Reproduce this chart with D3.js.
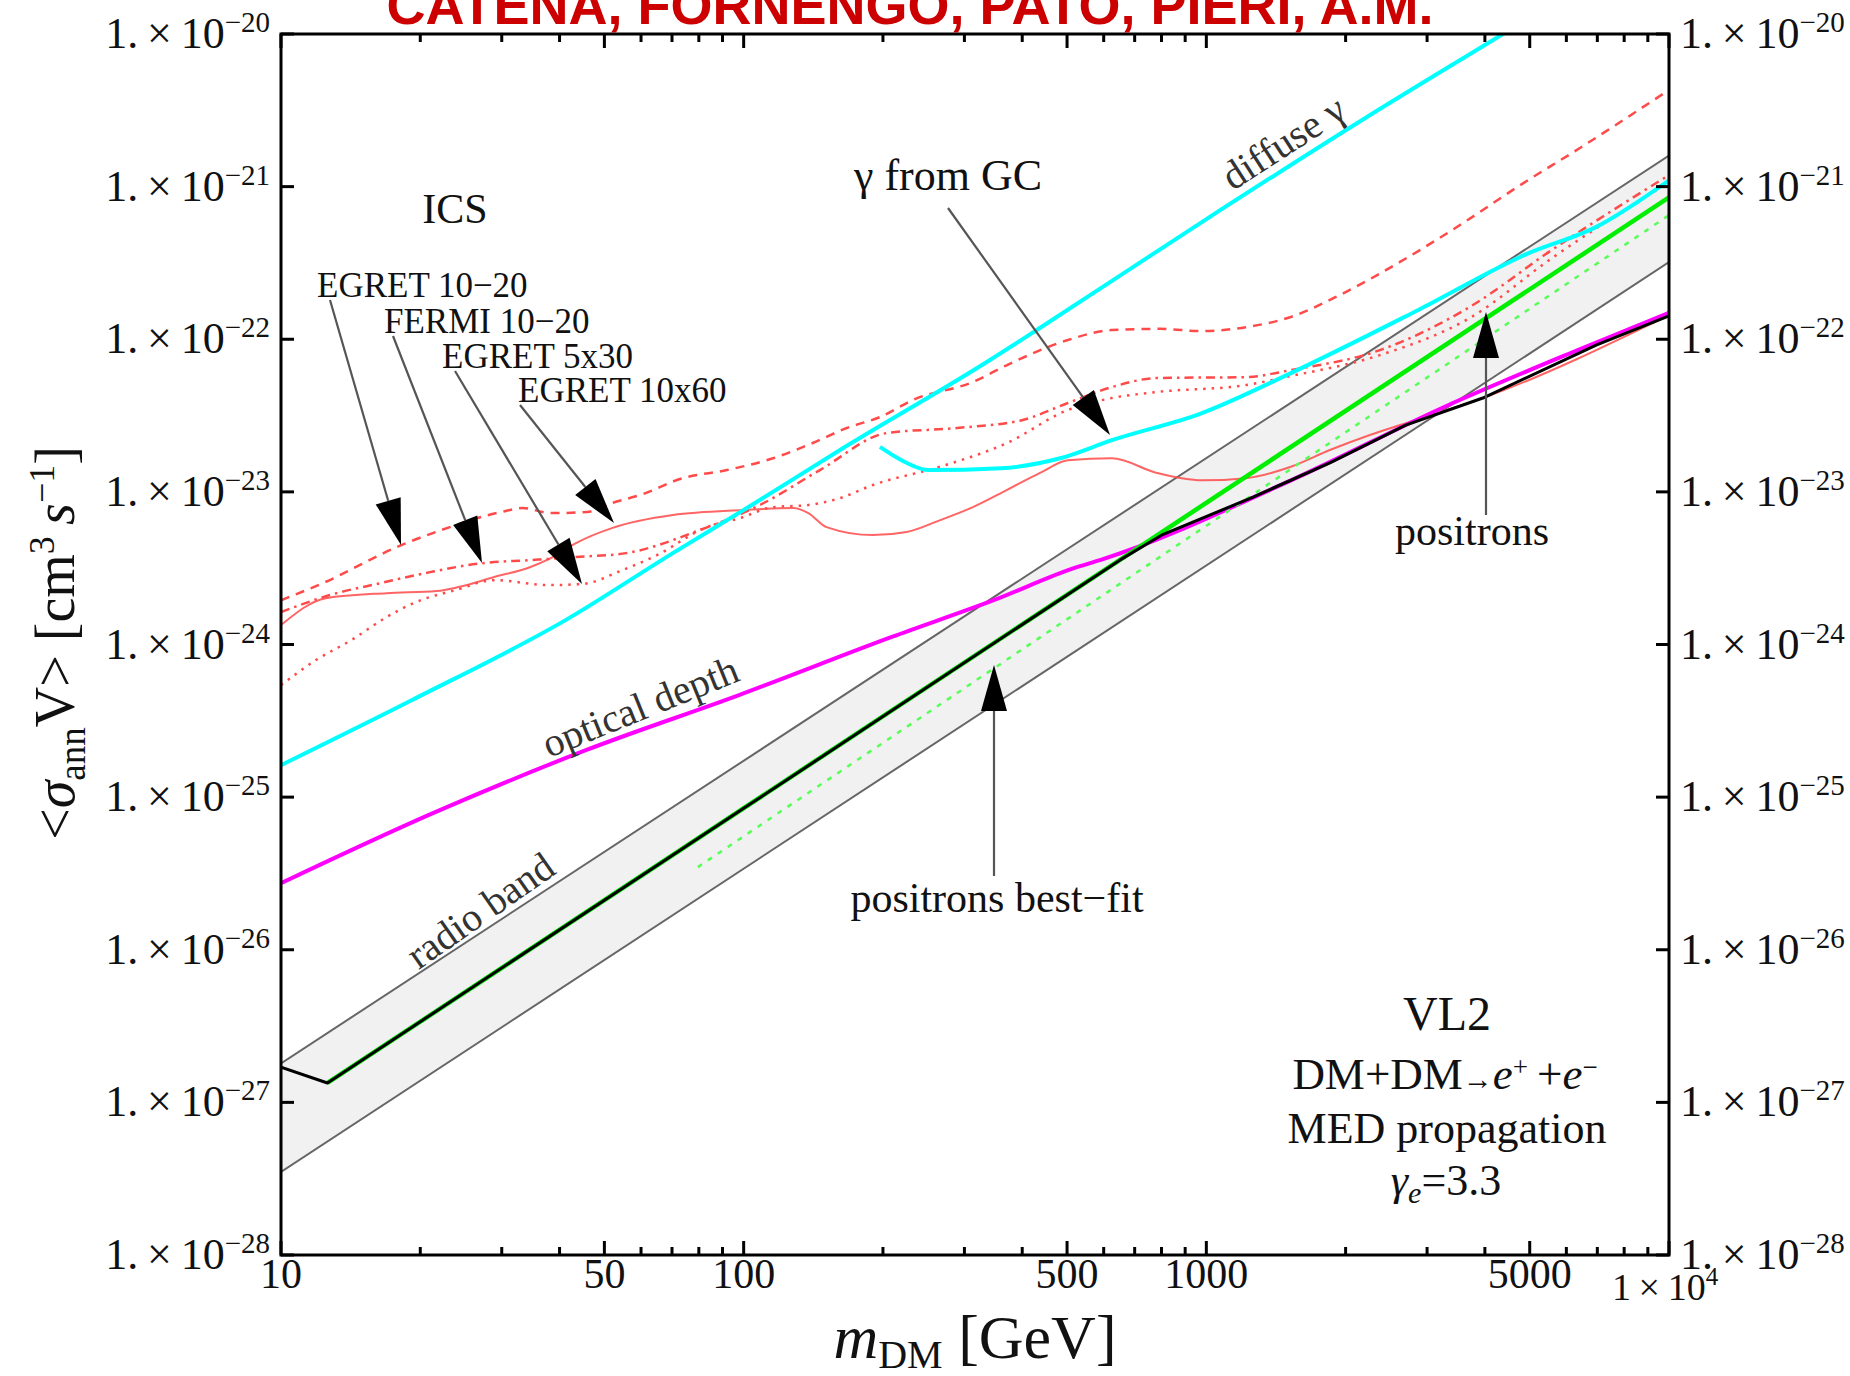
<!DOCTYPE html>
<html><head><meta charset="utf-8">
<script src="https://cdnjs.cloudflare.com/ajax/libs/d3/7.8.5/d3.min.js"></script>
<style>
body{margin:0;background:#fff}
svg{display:block;font-family:"Liberation Serif","Times New Roman",serif}
</style>
</head><body>
<svg id="chart" width="1850" height="1376"></svg>
<script>
// ---------------- DATA (mass in GeV, <sigma v> in cm^3 s^-1) ----------------
const xMajor = [10, 50, 100, 500, 1000, 5000, 10000];
const xMinor = [20,30,40,60,70,80,90,200,300,400,600,700,800,900,2000,3000,4000,6000,7000,8000,9000];
const xTickLabels = ["10","50","100","500","1000","5000"];
const yExponents = [-20,-21,-22,-23,-24,-25,-26,-27,-28];

// radio band edges
const radioUpper = [[10,1.8e-27],[10000,1.6e-21]];
const radioLower = [[10,3.5e-28],[10000,3.2e-22]];

// ICS constraints (red)
const egret1020 = [[10,1.95e-24],[12.3,2.52e-24],[18.2,4.48e-24],[22.2,5.62e-24],[29.9,7.38e-24],[33.3,7.83e-24],
  [38.3,7.26e-24],[45.9,7.38e-24],[51.9,8.45e-24],[59.7,9.53e-24],[73.9,1.23e-23],[92,1.39e-23],[115.7,1.66e-23],
  [141,2.09e-23],[167,2.62e-23],[197,3.09e-23],[232,4.0e-23],[313,5.25e-23],[371,6.78e-23],[502,9.88e-23],
  [625,1.15e-22],[794,1.17e-22],[978,1.13e-22],[1218,1.2e-22],[1523,1.4e-22],[1944,1.95e-22],[2621,3.21e-22],
  [3533,5.6e-22],[4763,1.02e-21],[6418,1.79e-21],[10000,4.3e-21]];
const fermi1020 = [[10,1.63e-24],[12.76,2.11e-24],[16.37,2.52e-24],[21.0,2.98e-24],[27.2,3.41e-24],[34.5,3.57e-24],
  [43.4,3.74e-24],[55.7,3.97e-24],[80.4,5.62e-24],[108.4,8.2e-24],[146.2,1.39e-23],[204,2.43e-23],[289,2.62e-23],
  [401,2.96e-23],[502,3.82e-23],[625,4.86e-23],[782,5.57e-23],[1218,5.65e-23],[1523,6.28e-23],[2372,8.49e-23],
  [3713,1.63e-22],[5583,3.85e-22],[10000,1.19e-21]];
const egret5x30 = [[10,5.42e-25],[11.9,7.91e-25],[14.2,1.07e-24],[16.9,1.51e-24],[19.6,1.90e-24],[23.8,2.27e-24],
  [28.9,2.64e-24],[37.8,2.45e-24],[44.7,2.49e-24],[54.8,3.08e-24],[64.3,3.79e-24],[83.3,5.88e-24],[98.2,6.73e-24],
  [115.7,7.94e-24],[137,8.18e-24],[161.5,9.1e-24],[190.3,1.11e-23],[265.6,1.46e-23],[370.8,2.09e-23],[502,3.44e-23],
  [625,4.12e-23],[782,4.51e-23],[1218,5.01e-23],[1523,5.74e-23],[2372,7.87e-23],[3713,1.38e-22],[5583,3.4e-22],
  [10000,1.07e-21]];
const egret10x60 = [[10,1.34e-24],[12.5,2.01e-24],[16.9,2.17e-24],[21.7,2.24e-24],[24.2,2.38e-24],[28.9,2.77e-24],
  [34.5,3.21e-24],[38.3,3.68e-24],[43.4,4.62e-24],[51.9,5.79e-24],[70.3,7.05e-24],[100,7.6e-24],[128,7.83e-24],
  [138,7.26e-24],[151,5.88e-24],[190,5.21e-24],[225,5.46e-24],[266,6.53e-24],[313,7.94e-24],[371,1.03e-23],
  [437,1.33e-23],[502,1.61e-23],[625,1.66e-23],[782,1.33e-23],[978,1.19e-23],[1218,1.23e-23],[1523,1.46e-23],
  [1849,1.88e-23],[2257,2.36e-23],[2700,2.82e-23],[3960,4.12e-23],[10000,1.44e-22]];

// gamma constraints (cyan)
const diffuseGamma = [[10,1.62e-25],[19.2,4.33e-25],[41.3,1.45e-24],[70.3,3.97e-24],[100,7.6e-24],[161.5,1.88e-23],
  [340.7,7.31e-23],[430,1.15e-22],[978,5.86e-22],[2224,2.86e-21],[4375,1.0e-20],[6000,1.8e-20]];
const gammaGC = [[197,1.97e-23],[223,1.57e-23],[251,1.39e-23],[360,1.43e-23],[483,1.66e-23],[625,2.18e-23],
  [978,3.28e-23],[1523,6.0e-23],[2866,1.55e-22],[4977,3.67e-22],[6950,5.43e-22],[10000,1.10e-21]];

// optical depth (magenta)
const opticalDepth = [[10,2.73e-26],[21.3,7.85e-26],[45.6,2.03e-25],[97.7,4.66e-25],[209,1.12e-24],[347,1.95e-24],
  [525,3.21e-24],[589,3.57e-24],[1524,1.19e-23],[3267,3.6e-23],[6350,8.49e-23],[10000,1.49e-22]];

// positrons (black) and best fit (green)
const positrons = [[10,1.70e-27],[12.6,1.34e-27],[100,8.44e-26],[650,3.57e-24],[800,5.2e-24],[1262,9.25e-24],
  [1849,1.55e-23],[2698,2.74e-23],[3960,4.12e-23],[6980,9.2e-23],[10000,1.42e-22]];
const bestFit = [[12.6,1.34e-27],[10000,8.5e-22]];
const bestFitDashed = [[79.6,3.48e-26],[10000,6.5e-22]];

// ---------------- DRAWING ----------------
const svg = d3.select("#chart");
const L = 281, R = 1669, T = 34, B = 1255;
const x = d3.scaleLog().domain([10, 1e4]).range([L, R]);
const y = d3.scaleLog().domain([1e-28, 1e-20]).range([B, T]);

svg.append("clipPath").attr("id","clip").append("rect")
  .attr("x",L).attr("y",T).attr("width",R-L).attr("height",B-T);
const plot = svg.append("g").attr("clip-path","url(#clip)");

const smooth = d3.line().x(d=>x(d[0])).y(d=>y(d[1])).curve(d3.curveMonotoneX);
const straight = d3.line().x(d=>x(d[0])).y(d=>y(d[1]));

// radio band
const bandPoly = radioUpper.concat(radioLower.slice().reverse());
plot.append("path").attr("d", straight(bandPoly) + "Z").attr("fill","#f1f1f1").attr("stroke","none");
[radioUpper, radioLower].forEach(s => plot.append("path").attr("d", straight(s))
  .attr("fill","none").attr("stroke","#666").attr("stroke-width",2));

// red ICS curves
const red = "#ff4a4a";
plot.append("path").attr("d", smooth(egret10x60)).attr("fill","none").attr("stroke",red).attr("stroke-width",2).attr("opacity",0.85);
plot.append("path").attr("d", smooth(egret5x30)).attr("fill","none").attr("stroke",red).attr("stroke-width",2.5).attr("stroke-dasharray","2.5,6");
plot.append("path").attr("d", smooth(fermi1020)).attr("fill","none").attr("stroke",red).attr("stroke-width",2.5).attr("stroke-dasharray","9,5,2.5,5");
plot.append("path").attr("d", smooth(egret1020)).attr("fill","none").attr("stroke",red).attr("stroke-width",2.5).attr("stroke-dasharray","9,7");

// cyan
plot.append("path").attr("d", smooth(diffuseGamma)).attr("fill","none").attr("stroke","#00ffff").attr("stroke-width",4);
plot.append("path").attr("d", smooth(gammaGC)).attr("fill","none").attr("stroke","#00ffff").attr("stroke-width",4);

// magenta
plot.append("path").attr("d", smooth(opticalDepth)).attr("fill","none").attr("stroke","#ff00ff").attr("stroke-width",4);

// green
plot.append("path").attr("d", straight(bestFitDashed)).attr("fill","none").attr("stroke","#55ff55").attr("stroke-width",2.5).attr("stroke-dasharray","5,7");
plot.append("path").attr("d", straight(bestFit)).attr("fill","none").attr("stroke","#00ee00").attr("stroke-width",4.5);

// black positrons
plot.append("path").attr("d", straight(positrons))
  .attr("fill","none").attr("stroke","#000").attr("stroke-width",3).attr("stroke-linejoin","round");

// arrows
function arrow(x1,y1,x2,y2){
  const dx=x2-x1, dy=y2-y1, len=Math.hypot(dx,dy), ux=dx/len, uy=dy/len;
  const hl=46, hw=13, bx=x2-ux*hl, by=y2-uy*hl;
  svg.append("line").attr("x1",x1).attr("y1",y1).attr("x2",bx).attr("y2",by)
    .attr("stroke","#555").attr("stroke-width",2.2);
  svg.append("polygon").attr("points",[[x2,y2],[bx-uy*hw,by+ux*hw],[bx+uy*hw,by-ux*hw]].map(p=>p.join(",")).join(" "))
    .attr("fill","#000");
}
arrow(330,300,401,545);
arrow(393,336,482,563);
arrow(455,371,582,584);
arrow(520,405,614,523);
arrow(948,208,1110,435);
arrow(994,876,994,665);
arrow(1486,515,1486,312);

// frame
svg.append("rect").attr("x",L).attr("y",T).attr("width",R-L).attr("height",B-T)
  .attr("fill","none").attr("stroke","#000").attr("stroke-width",3);

// ticks
const tk = svg.append("g").attr("stroke","#000").attr("stroke-width",3);
xMajor.forEach(v=>{
  tk.append("line").attr("x1",x(v)).attr("x2",x(v)).attr("y1",B).attr("y2",B-14);
  tk.append("line").attr("x1",x(v)).attr("x2",x(v)).attr("y1",T).attr("y2",T+14);
});
xMinor.forEach(v=>{
  tk.append("line").attr("x1",x(v)).attr("x2",x(v)).attr("y1",B).attr("y2",B-8);
  tk.append("line").attr("x1",x(v)).attr("x2",x(v)).attr("y1",T).attr("y2",T+8);
});
yExponents.forEach(e=>{
  const v = Math.pow(10,e);
  tk.append("line").attr("x1",L).attr("x2",L+13).attr("y1",y(v)).attr("y2",y(v));
  tk.append("line").attr("x1",R).attr("x2",R-13).attr("y1",y(v)).attr("y2",y(v));
});

// tick labels
const lab = svg.append("g").attr("fill","#111");
function sci(xp, yp, exp, anchor){
  const t = lab.append("text").attr("x",xp).attr("y",yp).attr("text-anchor",anchor).style("font-size","44px");
  t.append("tspan").text("1.\u2009\u00d7\u200910");
  t.append("tspan").attr("dy",-16).style("font-size","29px").text("\u2212"+Math.abs(exp));
}
yExponents.forEach(e=>{
  const v = Math.pow(10,e);
  sci(270, y(v)+14, e, "end");
  sci(1680, y(v)+14, e, "start");
});
xTickLabels.forEach((s,i)=>{
  lab.append("text").attr("x",x(xMajor[i])).attr("y",1288).attr("text-anchor","middle")
    .style("font-size","42px").text(s);
});
{
  const t = lab.append("text").attr("x",x(1e4)-57).attr("y",1300).style("font-size","38px");
  t.append("tspan").text("1\u2009\u00d7\u200910");
  t.append("tspan").attr("dy",-15).style("font-size","25px").text("4");
}

// axis titles
{
  const t = lab.append("text").attr("transform","translate(74,643) rotate(-90)").attr("text-anchor","middle")
    .style("font-size","56px");
  t.append("tspan").text("<");
  t.append("tspan").style("font-style","italic").text("\u03c3");
  t.append("tspan").attr("dy",11).style("font-size","37px").text("ann");
  t.append("tspan").attr("dy",-11).text("V> [cm");
  t.append("tspan").attr("dy",-20).style("font-size","36px").text("3");
  t.append("tspan").attr("dy",20).text("\u2009");
  t.append("tspan").style("font-style","italic").text("s");
  t.append("tspan").attr("dy",-20).style("font-size","36px").text("\u22121");
  t.append("tspan").attr("dy",20).text("]");
}
{
  const t = lab.append("text").attr("x",975).attr("y",1358).attr("text-anchor","middle").style("font-size","62px");
  t.append("tspan").style("font-style","italic").text("m");
  t.append("tspan").attr("dy",10).style("font-size","40px").text("DM");
  t.append("tspan").attr("dy",-10).text(" [GeV]");
}

// title
svg.append("text").attr("x",910).attr("y",24).attr("text-anchor","middle")
  .style("font-family","'Liberation Sans',Arial,sans-serif").style("font-weight","bold")
  .style("font-size","54px").attr("fill","#cc0000").text("CATENA, FORNENGO, PATO, PIERI, A.M.");

// annotations
const ann = svg.append("g").attr("fill","#111");
function txt(xp,yp,s,size,anchor){ return ann.append("text").attr("x",xp).attr("y",yp).attr("text-anchor",anchor||"start").style("font-size",size+"px").text(s); }
txt(455,223,"ICS",42,"middle");
txt(317,297,"EGRET 10\u221220",35);
txt(384,333,"FERMI 10\u221220",35);
txt(442,368,"EGRET 5x30",35);
txt(518,402,"EGRET 10x60",35);
txt(854,190,"\u03b3 from GC",44);
txt(997,912,"positrons best\u2212fit",42,"middle");
txt(1472,545,"positrons",42,"middle");
txt(1447,1030,"VL2",48,"middle");
{
  const t = ann.append("text").attr("x",1445).attr("y",1089).attr("text-anchor","middle").style("font-size","45px");
  t.append("tspan").text("DM+DM");
  t.append("tspan").style("font-size","30px").text("\u2192");
  t.append("tspan").style("font-style","italic").text("e");
  t.append("tspan").attr("dy",-13).style("font-size","27px").text("+");
  t.append("tspan").attr("dy",13).text("\u2009+");
  t.append("tspan").style("font-style","italic").text("e");
  t.append("tspan").attr("dy",-13).style("font-size","27px").text("\u2212");
}
txt(1447,1143,"MED propagation",44,"middle");
{
  const t = ann.append("text").attr("x",1446).attr("y",1195).attr("text-anchor","middle").style("font-size","44px");
  t.append("tspan").style("font-style","italic").text("\u03b3");
  t.append("tspan").attr("dy",8).style("font-size","30px").style("font-style","italic").text("e");
  t.append("tspan").attr("dy",-8).text("=3.3");
}
function rot(cx,cy,ang,s){
  ann.append("text").attr("transform",`translate(${cx},${cy}) rotate(${ang})`).attr("text-anchor","middle")
    .attr("dy","0.35em").attr("fill","#333").style("font-size","40px").text(s);
}
rot(1283,142,-33,"diffuse \u03b3");
rot(640,706,-22,"optical depth");
rot(480,910,-35,"radio band");
</script>
</body></html>
